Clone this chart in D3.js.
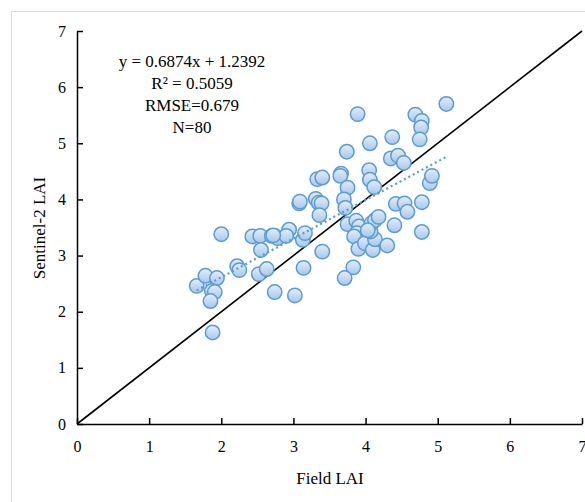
<!DOCTYPE html>
<html>
<head>
<meta charset="utf-8">
<script src="https://cdn.jsdelivr.net/npm/d3@7/dist/d3.min.js"></script>
<style>
  html, body { margin: 0; padding: 0; background: #fff; }
  svg { display: block; }
  svg text { font-family: "Liberation Serif", "Times New Roman", serif !important; fill: #000; }
</style>
</head>
<body>
<svg id="chart" width="585" height="502"></svg>
<script>
// Field-measured LAI vs. Sentinel-2 derived LAI (80 samples)
const fieldLAI = [
  1.66, 1.78, 1.94, 1.87, 1.91, 1.85, 1.88, 2.00, 2.22, 2.25,
  2.43, 2.54, 2.55, 2.52, 2.63, 2.70, 2.74, 2.78, 2.74, 3.02,
  2.94, 2.90, 3.14, 3.13, 3.16, 3.08, 3.09, 3.31, 3.35, 3.39,
  3.36, 3.40, 3.33, 3.40, 3.66, 3.65, 3.75, 3.70, 3.72, 3.74,
  3.89, 4.06, 4.37, 4.35, 4.45, 4.53, 4.69, 4.78, 4.77, 4.75,
  5.12, 4.05, 4.06, 4.12, 4.89, 4.92, 4.42, 4.54, 4.58, 4.78,
  3.75, 3.87, 3.91, 3.88, 3.84, 3.90, 3.99, 4.10, 4.13, 4.07,
  4.08, 4.13, 4.18, 4.30, 4.40, 4.78, 3.83, 3.71, 4.03, 2.72
];
const sentinelLAI = [
  2.46, 2.64, 2.60, 2.37, 2.35, 2.19, 1.63, 3.38, 2.81, 2.74,
  3.34, 3.35, 3.10, 2.67, 2.76, 3.35, 3.35, 3.31, 2.35, 2.29,
  3.46, 3.35, 2.78, 3.28, 3.40, 3.93, 3.96, 4.01, 3.94, 3.93,
  3.72, 3.07, 4.36, 4.39, 4.46, 4.42, 4.21, 4.00, 3.85, 4.85,
  5.52, 5.00, 5.11, 4.73, 4.78, 4.65, 5.51, 5.40, 5.28, 5.07,
  5.70, 4.52, 4.35, 4.22, 4.29, 4.42, 3.92, 3.93, 3.78, 3.95,
  3.56, 3.62, 3.52, 3.40, 3.34, 3.12, 3.22, 3.10, 3.29, 3.43,
  3.57, 3.63, 3.69, 3.18, 3.54, 3.42, 2.79, 2.60, 3.45, 3.36
];
const tickValues = [0, 1, 2, 3, 4, 5, 6, 7];
const statsLines = ["y = 0.6874x + 1.2392", "R\u00B2 = 0.5059", "RMSE=0.679", "N=80"];
const fitSlope = 0.6874, fitIntercept = 1.2392;
const fitRange = [1.66, 5.12];

const svg = d3.select("#chart");

// light frame around the plot area
svg.append("path")
  .attr("d", "M11.5,502 V11.5 H585")
  .attr("fill", "none").attr("stroke", "#d9d9d9").attr("stroke-width", 1);

const x = d3.scaleLinear().domain([0, 7]).range([77, 582]);
const y = d3.scaleLinear().domain([0, 7]).range([424, 31]);

// gradient fill for the markers
const defs = svg.append("defs");
const grad = defs.append("linearGradient").attr("id", "markerFill")
  .attr("x1", 0).attr("y1", 0).attr("x2", 0).attr("y2", 1);
grad.append("stop").attr("offset", "0%").attr("stop-color", "#e3eef9");
grad.append("stop").attr("offset", "100%").attr("stop-color", "#a7c7ea");

// axes with inward ticks, integer labels
const fmt = d3.format("d");
const xAxis = svg.append("g").attr("transform", `translate(0,${y(0)})`)
  .call(d3.axisBottom(x).tickValues(tickValues).tickFormat(fmt)
    .tickSizeInner(-6).tickSizeOuter(0).tickPadding(17));
const yAxis = svg.append("g").attr("transform", `translate(${x(0)},0)`)
  .call(d3.axisLeft(y).tickValues(tickValues).tickFormat(fmt)
    .tickSizeInner(-6).tickSizeOuter(0).tickPadding(11));
[xAxis, yAxis].forEach(g => {
  g.attr("font-family", "Liberation Serif, serif").attr("font-size", 16);
  g.select(".domain").attr("stroke", "#000").attr("stroke-width", 1.5);
  g.selectAll(".tick line").attr("stroke", "#000").attr("stroke-width", 1.5);
  g.selectAll(".tick text").style("font-family", "'Liberation Serif', serif")
    .attr("font-size", 16).attr("fill", "#000");
});

// 1:1 line
svg.append("line")
  .attr("x1", x(0)).attr("y1", y(0)).attr("x2", x(7)).attr("y2", y(7))
  .attr("stroke", "#000").attr("stroke-width", 1.6);

// scatter points
const pts = fieldLAI.map((v, i) => ({ fx: v, sy: sentinelLAI[i] }));
svg.append("g").selectAll("circle").data(pts).join("circle")
  .attr("cx", d => x(d.fx)).attr("cy", d => y(d.sy)).attr("r", 7.2)
  .attr("fill", "url(#markerFill)").attr("stroke", "#5b9bd5").attr("stroke-width", 1.5);

// linear trend line
svg.append("line")
  .attr("x1", x(fitRange[0])).attr("y1", y(fitSlope * fitRange[0] + fitIntercept))
  .attr("x2", x(fitRange[1])).attr("y2", y(fitSlope * fitRange[1] + fitIntercept))
  .attr("stroke", "#5b9bd5").attr("stroke-width", 2.2)
  .attr("stroke-dasharray", "2 3");

// regression statistics
svg.append("g").selectAll("text").data(statsLines).join("text")
  .attr("x", 192).attr("y", (d, i) => 67 + i * 22)
  .attr("text-anchor", "middle").attr("font-size", 17)
  .text(d => d);

// axis titles
svg.append("text").attr("x", 330).attr("y", 484)
  .attr("text-anchor", "middle").attr("font-size", 17).text("Field LAI");
svg.append("text")
  .attr("transform", "translate(45,228) rotate(-90)")
  .attr("text-anchor", "middle").attr("font-size", 17).text("Sentinel-2 LAI");
</script>
</body>
</html>
